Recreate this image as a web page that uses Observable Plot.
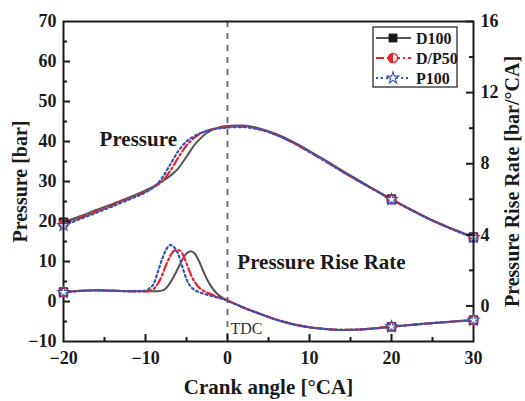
<!DOCTYPE html>
<html><head><meta charset="utf-8">
<script src="https://cdn.jsdelivr.net/npm/d3@7"></script>
<script src="https://cdn.jsdelivr.net/npm/@observablehq/plot@0.6"></script>
<style>
body{margin:0;background:#fff;}
#wrap{position:relative;width:525px;height:401px;overflow:hidden;}
#wrap svg{position:absolute;left:0;top:0;}
</style></head><body><div id="wrap"></div>
<script>
// ---------- data ----------
const seriesNames = ["D100", "D/P50", "P100"];
const crankP = [-20,-18,-16,-14,-12,-10,-9,-8,-7,-6,-5,-4,-3,-2,-1,0,1,2,3,4,6,8,10,12,14,16,18,20,22,24,26,28,30];
const pD100 = [19.8,21.3,22.9,24.4,26.0,27.8,28.8,30.0,31.4,33.3,36.2,39.2,41.4,42.8,43.6,43.9,44.0,44.0,43.7,43.2,41.8,39.9,37.6,35.2,32.7,30.3,27.9,25.6,23.4,21.3,19.4,17.7,16.1];
const pDP50 = [19.4,20.9,22.5,24.1,25.7,27.5,28.6,30.0,32.6,36.0,39.0,41.0,42.3,43.0,43.4,43.6,43.7,43.7,43.4,43.0,41.6,39.7,37.4,35.0,32.5,30.1,27.8,25.5,23.3,21.2,19.3,17.6,16.0];
const pP100 = [19.0,20.6,22.2,23.8,25.5,27.3,28.6,30.8,34.2,37.6,40.0,41.4,42.3,42.9,43.3,43.5,43.6,43.6,43.4,43.0,41.6,39.7,37.4,35.0,32.5,30.1,27.8,25.5,23.3,21.2,19.3,17.6,16.0];
const crankR = [-20,-18,-16,-14,-12,-10,-9.5,-9,-8.5,-8,-7.5,-7,-6.5,-6,-5.5,-5,-4.5,-4,-3.5,-3,-2.5,-2,-1.5,-1,-0.5,0,1,2,4,6,8,10,12,14,16,18,20,22,24,26,28,30];
const rD100 = [0.78,0.85,0.88,0.86,0.83,0.82,0.82,0.82,0.83,0.86,1.0,1.3,1.7,2.15,2.6,2.95,3.08,2.95,2.55,2.0,1.5,1.1,0.8,0.58,0.42,0.3,0.1,-0.1,-0.45,-0.78,-1.03,-1.2,-1.3,-1.35,-1.33,-1.26,-1.17,-1.08,-1.0,-0.93,-0.86,-0.8];
const rDP50 = [0.78,0.85,0.88,0.86,0.83,0.82,0.85,0.95,1.25,1.7,2.3,2.8,3.1,3.15,2.95,2.4,1.8,1.35,1.05,0.88,0.75,0.66,0.56,0.48,0.4,0.3,0.1,-0.1,-0.45,-0.78,-1.03,-1.2,-1.3,-1.35,-1.33,-1.26,-1.17,-1.08,-1.0,-0.93,-0.86,-0.8];
const rP100 = [0.76,0.84,0.87,0.85,0.83,0.85,1.0,1.25,1.9,2.6,3.15,3.42,3.3,2.9,2.2,1.5,1.1,0.9,0.78,0.7,0.63,0.57,0.5,0.44,0.38,0.3,0.1,-0.1,-0.45,-0.78,-1.03,-1.2,-1.3,-1.35,-1.33,-1.26,-1.17,-1.08,-1.0,-0.93,-0.86,-0.8];
const markerCrank = [-20, 20, 30];
const xTicks = [-20,-10,0,10,20,30];
const xMinor = [-15,-5,5,15,25];
const pTicks = [-10,0,10,20,30,40,50,60,70];
const pMinor = [-5,5,15,25,35,45,55,65];
const rTicks = [0,4,8,12,16];
const rMinor = [2,6,10,14];
const xTitle = "Crank angle [°CA]";
const pTitle = "Pressure [bar]";
const rTitle = "Pressure Rise Rate [bar/°CA]";
const pNotes = [{ca:-15.6, v:40.5, text:"Pressure"}];
const rNotes = [{ca:1.2, v:2.45, text:"Pressure Rise Rate"}];
const tdcNote = [{ca:0, v:-8, text:"TDC"}];

// ---------- tables ----------
const pCols = [pD100, pDP50, pP100];
const rCols = [rD100, rDP50, rP100];
const pressure = seriesNames.flatMap((s,i) => crankP.map((c,j) => ({series:s, ca:c, v:pCols[i][j]})));
const prr = seriesNames.flatMap((s,i) => crankR.map((c,j) => ({series:s, ca:c, v:rCols[i][j]})));

const colors = {"D100":"#555555", "D/P50":"#e8222b", "P100":"#3452b4"};
const dashes = {"D100":null, "D/P50":"8,3,2,3", "P100":"2,3"};
const widths = {"D100":2, "D/P50":2.2, "P100":2.2};
const halfLeft = {draw(ctx, size){const r=Math.sqrt(size/Math.PI); ctx.moveTo(0,-r); ctx.arc(0,0,r,-Math.PI/2,Math.PI/2,true); ctx.closePath();}};

const FONT = "'Liberation Serif','Times New Roman',serif";
const W=525, H=401, ML=63, MR=52, MT=21, MB=60;
const IW = W-ML-MR, IH = H-MT-MB;
const common = {width:W, height:H, marginLeft:ML, marginRight:MR, marginTop:MT, marginBottom:MB,
  x:{domain:[-20,30], axis:null},
  style:{background:"transparent", fontFamily:FONT, overflow:"visible", color:"#1a1a1a"}};

function seriesMarks(table) {
  const m = [];
  for (const s of seriesNames) {
    m.push(Plot.line(table.filter(d=>d.series===s), {x:"ca", y:"v", stroke:colors[s], strokeWidth:widths[s], strokeDasharray:dashes[s], curve:"monotone-x"}));
  }
  const mk = table.filter(d => markerCrank.includes(d.ca));
  m.push(Plot.dot(mk.filter(d=>d.series==="D100"), {x:"ca", y:"v", symbol:"square", r:4.8, fill:"#1a1a1a", stroke:"#1a1a1a", strokeWidth:1}));
  m.push(Plot.dot(mk.filter(d=>d.series==="D/P50"), {x:"ca", y:"v", symbol:"circle", r:4.4, fill:"#fff", stroke:colors["D/P50"], strokeWidth:1.5}));
  m.push(Plot.dot(mk.filter(d=>d.series==="D/P50"), {x:"ca", y:"v", symbol:halfLeft, r:4.4, fill:colors["D/P50"]}));
  m.push(Plot.dot(mk.filter(d=>d.series==="P100"), {x:"ca", y:"v", symbol:"star", r:3.6, fill:"#fff", stroke:colors["P100"], strokeWidth:1.1}));
  return m;
}

const chartP = Plot.plot({...common,
  y:{domain:[-10,70], axis:null},
  marks:[
    Plot.ruleX([0], {stroke:"#666", strokeWidth:1.8, strokeDasharray:"6,6"}),
    ...seriesMarks(pressure),
    Plot.tickY(pTicks.slice(1,-1), {y:d=>d, insetRight:IW-7, stroke:"#1a1a1a", strokeWidth:2}),
    Plot.tickY(pMinor, {y:d=>d, insetRight:IW-4, stroke:"#1a1a1a", strokeWidth:2}),
    Plot.tickX(xTicks.slice(1,-1), {x:d=>d, insetTop:IH-7, stroke:"#1a1a1a", strokeWidth:2}),
    Plot.tickX(xMinor, {x:d=>d, insetTop:IH-4, stroke:"#1a1a1a", strokeWidth:2}),
    Plot.axisY(pTicks, {anchor:"left", tickSize:0, tickPadding:7, fontSize:18, fontWeight:"bold", label:null}),
    Plot.axisX(xTicks, {anchor:"bottom", tickSize:0, tickPadding:10, fontSize:18, fontWeight:"bold", label:null}),
    Plot.frame({stroke:"#1a1a1a", strokeWidth:2}),
    Plot.text([pTitle], {frameAnchor:"left", rotate:-90, dx:-43, textAnchor:"middle", fontSize:20, fontWeight:"bold", lineAnchor:"middle"}),
    Plot.text([xTitle], {frameAnchor:"bottom", dy:46, textAnchor:"middle", fontSize:21, fontWeight:"bold", lineAnchor:"middle"}),
    Plot.text(pNotes, {x:"ca", y:"v", text:"text", textAnchor:"start", lineAnchor:"middle", fontSize:21, fontWeight:"bold"}),
    Plot.text(tdcNote, {x:"ca", y:"v", text:"text", textAnchor:"start", lineAnchor:"bottom", dx:3, fontSize:16, fill:"#333"})
  ]});

const chartR = Plot.plot({...common,
  y:{domain:[-2,16], axis:null},
  marks:[
    ...seriesMarks(prr),
    Plot.tickY(rTicks, {y:d=>d, insetLeft:IW-7, stroke:"#1a1a1a", strokeWidth:2}),
    Plot.tickY(rMinor, {y:d=>d, insetLeft:IW-4, stroke:"#1a1a1a", strokeWidth:2}),
    Plot.axisY(rTicks, {anchor:"right", tickSize:0, tickPadding:7, fontSize:18, fontWeight:"bold", label:null}),
    Plot.text([rTitle], {frameAnchor:"right", rotate:-90, dx:39, textAnchor:"middle", fontSize:20, fontWeight:"bold", lineAnchor:"middle"}),
    Plot.text(rNotes, {x:"ca", y:"v", text:"text", textAnchor:"start", lineAnchor:"middle", fontSize:21, fontWeight:"bold"})
  ]});

const wrap = document.getElementById("wrap");
wrap.appendChild(chartP);
wrap.appendChild(chartR);

// ---------- legend ----------
const lg = d3.select(wrap).append("svg").attr("width", W).attr("height", H).style("font-family", FONT);
const bx = 373, by = 27, bw = 84, bh = 60;
lg.append("rect").attr("x", bx).attr("y", by).attr("width", bw).attr("height", bh).attr("fill", "#fff").attr("stroke", "#1a1a1a").attr("stroke-width", 1.2);
seriesNames.forEach((s, i) => {
  const yy = by + 11 + i * 20;
  lg.append("line").attr("x1", bx+3).attr("x2", bx+38).attr("y1", yy).attr("y2", yy)
    .attr("stroke", colors[s]).attr("stroke-width", widths[s]).attr("stroke-dasharray", dashes[s]);
  const cx = bx + 20;
  if (s === "D100") {
    lg.append("path").attr("transform", `translate(${cx},${yy})`).attr("d", d3.symbol(d3.symbolSquare, 78)()).attr("fill", "#1a1a1a");
  } else if (s === "D/P50") {
    lg.append("path").attr("transform", `translate(${cx},${yy})`).attr("d", d3.symbol(d3.symbolCircle, 66)()).attr("fill", "#fff").attr("stroke", colors[s]).attr("stroke-width", 1.5);
    lg.append("path").attr("transform", `translate(${cx},${yy})`).attr("d", d3.symbol(halfLeft, 66)()).attr("fill", colors[s]);
  } else {
    lg.append("path").attr("transform", `translate(${cx},${yy})`).attr("d", d3.symbol(d3.symbolStar, 42)()).attr("fill", "#fff").attr("stroke", colors[s]).attr("stroke-width", 1.1);
  }
  lg.append("text").attr("x", bx+43).attr("y", yy).attr("dy", "0.35em").attr("font-size", 16).attr("font-weight", "bold").attr("fill", "#1a1a1a").text(s);
});
</script></body></html>
